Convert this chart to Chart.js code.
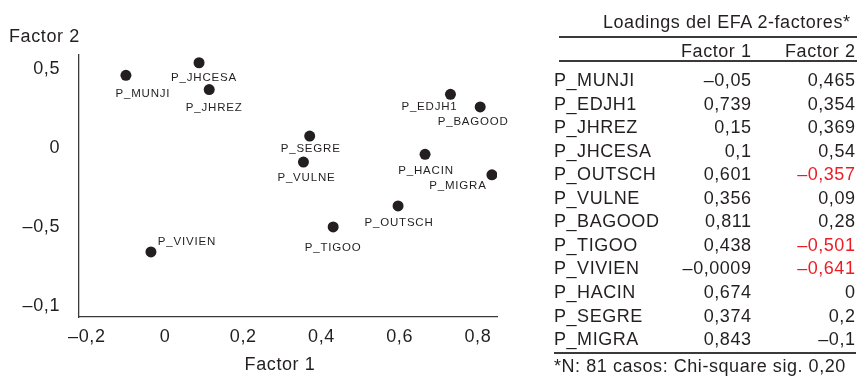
<!DOCTYPE html>
<html><head><meta charset="utf-8">
<script src="https://cdn.jsdelivr.net/npm/chart.js@4/dist/chart.umd.min.js"></script>
<style>
html,body{margin:0;padding:0;background:#fff;}
body{width:857px;height:376px;position:relative;overflow:hidden;font-family:"Liberation Sans",Arial,sans-serif;color:#231f20;}
#wrap{position:absolute;left:0;top:0;width:540px;height:376px;}
#tbl{position:absolute;left:0;top:0;width:857px;height:376px;}
.t{position:absolute;font-size:18px;letter-spacing:0.55px;height:20px;line-height:20px;white-space:nowrap;}
.r{text-align:right;}
.rule{position:absolute;height:1.5px;background:#3a3a3a;}
</style></head>
<body>
<div id="wrap"><canvas id="c" width="540" height="376"></canvas></div>
<div id="tbl"></div>
<script>
// ---- data ----
const variables = ["P_MUNJI","P_EDJH1","P_JHREZ","P_JHCESA","P_OUTSCH","P_VULNE","P_BAGOOD","P_TIGOO","P_VIVIEN","P_HACIN","P_SEGRE","P_MIGRA"];
// positions of the dots as drawn in the plot
const plotFactor1 = [-0.10, 0.73, 0.113, 0.087, 0.596, 0.354, 0.806, 0.43, -0.036, 0.665, 0.37, 0.836];
const plotFactor2 = [0.46, 0.34, 0.37, 0.54, -0.367, -0.089, 0.26, -0.50, -0.658, -0.04, 0.076, -0.17];
// loadings in the table
const tableFactor1 = [-0.05, 0.739, 0.15, 0.1, 0.601, 0.356, 0.811, 0.438, -0.0009, 0.674, 0.374, 0.843];
const tableFactor2 = [0.465, 0.354, 0.369, 0.54, -0.357, 0.09, 0.28, -0.501, -0.641, 0, 0.2, -0.1];
const xTickValues = [-0.2, 0, 0.2, 0.4, 0.6, 0.8];
const xTickLabels = ["–0,2", "0", "0,2", "0,4", "0,6", "0,8"];
const yTickValues = [0.5, 0, -0.5, -1];
const yTickLabels = ["0,5", "0", "–0,5", "–0,1"];
const xTitle = "Factor 1";
const yTitle = "Factor 2";
const tableTitle = "Loadings del EFA 2-factores*";
const tableHeaders = ["Factor 1", "Factor 2"];
const footnote = "*N: 81 casos: Chi-square sig. 0,20";

// ---- layout (label offsets relative to dot) ----
const labelOffsets = {
  "P_MUNJI":[17,18],"P_EDJH1":[-21,13],"P_JHREZ":[5,18],"P_JHCESA":[5,15],
  "P_OUTSCH":[1,17],"P_VULNE":[3,16],"P_BAGOOD":[-7,15],"P_TIGOO":[0,21],
  "P_VIVIEN":[36,-10],"P_HACIN":[1,16],"P_SEGRE":[1,13],"P_MIGRA":[-34,11]
};
const INK = "#231f20";
const FONT = '"Liberation Sans", Arial, sans-serif';

const spacingPlugin = {
  id: 'spacing',
  beforeDraw(chart) { chart.ctx.letterSpacing = '0.6px'; }
};

const labelPlugin = {
  id: 'pointLabels',
  afterDatasetsDraw(chart) {
    const ctx = chart.ctx;
    const meta = chart.getDatasetMeta(0);
    ctx.save();
    ctx.fillStyle = INK;
    ctx.letterSpacing = '0.8px';
    ctx.font = '11.5px ' + FONT;
    ctx.textAlign = 'center';
    ctx.textBaseline = 'middle';
    meta.data.forEach((pt, i) => {
      const o = labelOffsets[variables[i]];
      ctx.fillText(variables[i], pt.x + o[0], pt.y + o[1]);
    });
    ctx.letterSpacing = '0.6px';
    ctx.font = '18px ' + FONT;
    ctx.textAlign = 'left';
    ctx.fillText(yTitle, 9, 37);
    ctx.textAlign = 'center';
    ctx.fillText(xTitle, 280, 365);
    ctx.restore();
  }
};

new Chart(document.getElementById('c'), {
  type: 'scatter',
  data: {
    datasets: [{
      data: variables.map((v, i) => ({x: plotFactor1[i], y: plotFactor2[i]})),
      backgroundColor: INK, borderColor: INK, pointRadius: 5.5, pointHoverRadius: 5.5, borderWidth: 0
    }]
  },
  options: {
    responsive: false, animation: false,
    layout: {padding: {top: 55, right: 43, left: 0, bottom: 0}},
    plugins: {legend: {display: false}, tooltip: {enabled: false}},
    scales: {
      x: {
        type: 'linear', min: -0.22, max: 0.849,
        grid: {display: false, drawTicks: false},
        border: {display: true, color: '#3a3a3a', width: 1.3},
        ticks: {color: INK, font: {size: 18, family: FONT}, padding: 9, maxRotation: 0, autoSkip: false,
          callback: (v) => { const i = xTickValues.findIndex(t => Math.abs(t - v) < 1e-9); return i >= 0 ? xTickLabels[i] : ''; }},
        afterBuildTicks: (s) => { s.ticks = xTickValues.map(v => ({value: v})); },
        afterFit: (s) => { s.height = 59; }
      },
      y: {
        type: 'linear', min: -1.07, max: 0.589,
        grid: {display: false, drawTicks: false},
        border: {display: true, color: '#3a3a3a', width: 1.3},
        ticks: {color: INK, font: {size: 18, family: FONT}, padding: 19, autoSkip: false,
          callback: (v) => { const i = yTickValues.findIndex(t => Math.abs(t - v) < 1e-9); return i >= 0 ? yTickLabels[i] : ''; }},
        afterBuildTicks: (s) => { s.ticks = yTickValues.map(v => ({value: v})); },
        afterFit: (s) => { s.width = 79; }
      }
    }
  },
  plugins: [spacingPlugin, labelPlugin]
});

// ---- table ----
const tbl = document.getElementById('tbl');
function fmt(v) { return String(v).replace('.', ',').replace('-', '–'); }
function addText(txt, left, right, cy, color) {
  const d = document.createElement('div');
  d.className = 't' + (right != null ? ' r' : '');
  d.textContent = txt;
  if (right != null) d.style.right = (857 - right - 0.5) + 'px'; else d.style.left = left + 'px';
  d.style.top = (cy - 10) + 'px';
  if (color) d.style.color = color;
  tbl.appendChild(d);
}
function addRule(x1, x2, y) {
  const d = document.createElement('div');
  d.className = 'rule';
  d.style.left = x1 + 'px'; d.style.width = (x2 - x1) + 'px'; d.style.top = (y - 0.75) + 'px';
  tbl.appendChild(d);
}
addText(tableTitle, null, 850, 22);
addRule(559, 857, 37);
addText(tableHeaders[0], null, 751, 51);
addText(tableHeaders[1], null, 855, 51);
addRule(559, 857, 61);
variables.forEach((v, i) => {
  const cy = 80 + i * 23.55;
  addText(v, 554, null, cy);
  addText(fmt(tableFactor1[i]), null, 751, cy);
  addText(fmt(tableFactor2[i]), null, 855, cy, tableFactor2[i] <= -0.3 ? '#ed1c24' : null);
});
addRule(554, 856, 353);
addText(footnote, 554, null, 366);
</script>
</body></html>
